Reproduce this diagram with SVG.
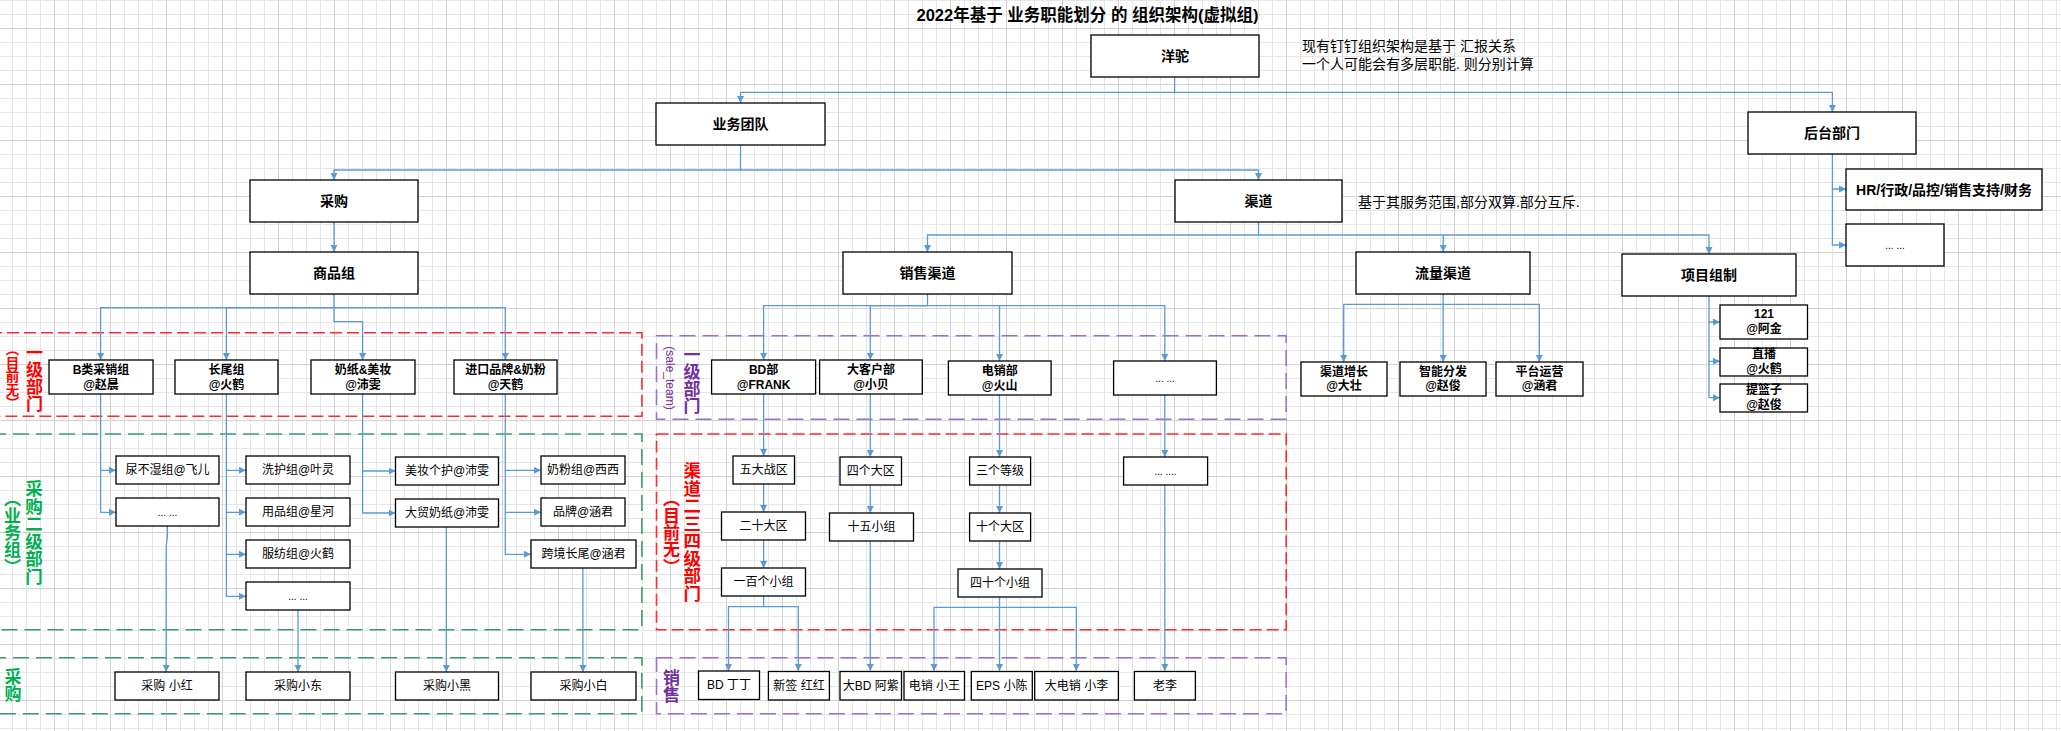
<svg xmlns="http://www.w3.org/2000/svg" width="2061" height="731" viewBox="0 0 2061 731">
  <defs>
    <pattern id="grid" width="56" height="56" patternUnits="userSpaceOnUse" x="-2" y="28">
      <rect x="14" y="0" width="1" height="56" fill="#e6e6e6"/>
      <rect x="28" y="0" width="1" height="56" fill="#e6e6e6"/>
      <rect x="42" y="0" width="1" height="56" fill="#e6e6e6"/>
      <rect x="0" y="14" width="56" height="1" fill="#e6e6e6"/>
      <rect x="0" y="28" width="56" height="1" fill="#e6e6e6"/>
      <rect x="0" y="42" width="56" height="1" fill="#e6e6e6"/>
      <rect x="0" y="0" width="1" height="56" fill="#d2d2d2"/>
      <rect x="0" y="0" width="56" height="1" fill="#d2d2d2"/>
    </pattern>
    <marker id="arr" markerWidth="8" markerHeight="8" refX="7" refY="4" orient="auto" markerUnits="userSpaceOnUse">
      <path d="M0,0.5 L7,4 L0,7.5 z" fill="#5b9bd5"/>
    </marker>
    <style>
      text { font-family: "Liberation Sans", "Noto Sans CJK SC", sans-serif; fill: #000; dominant-baseline: central; text-anchor: middle; }
      .box { fill: #fff; stroke: #000; stroke-width: 1.3; }
      .t14 { font-size: 14px; font-weight: bold; }
      .t12b { font-size: 12px; font-weight: bold; }
      .t12 { font-size: 12px; }
      .dots { font-size: 10px; }
      .note { font-size: 14px; text-anchor: start; }
      .title { font-size: 16.5px; font-weight: bold; }
      .conn path { fill: none; stroke: #5b9bd5; stroke-width: 1.3; }
      .zone { fill: none; stroke-width: 1.6; }
      .zr { stroke: #ff2a2a; stroke-dasharray: 12 5; }
      .zg { stroke: #3a9e6c; stroke-dasharray: 16 7; }
      .zp { stroke: #9b70d0; stroke-dasharray: 16 7; }
      .vl { writing-mode: vertical-rl; font-weight: bold; }
      .red { fill: #ff0000; }
      .green { fill: #00b050; }
      .purple { fill: #7030a0; }
    </style>
  </defs>

  <!-- background grid -->
  <rect x="0" y="0" width="2061" height="731" fill="#fff"/>
  <rect x="0" y="0" width="2061" height="731" fill="url(#grid)"/>

  <!-- dashed zones -->
  <g id="zones">
    <rect class="zone zr" x="-10" y="332.7" width="651.9" height="83.6"/>
    <rect class="zone zg" x="-10" y="434" width="651.9" height="195.7"/>
    <rect class="zone zg" x="-10" y="657.7" width="651.9" height="56"/>
    <rect class="zone zp" x="656.5" y="335.7" width="629.7" height="83.6"/>
    <rect class="zone zr" x="656.5" y="434" width="629.7" height="195.7"/>
    <rect class="zone zp" x="656.5" y="657.7" width="629.7" height="56"/>
  </g>

  <!-- zone labels -->
  <g id="zone-labels">
    <text class="vl red" x="32.5" y="378" style="font-size:17px">一级部门</text>
    <text class="vl red" x="11" y="376" style="font-size:13.5px">（目前无）</text>
    <text class="vl green" x="32.5" y="532.5" style="font-size:17.5px">采购二级部门</text>
    <text class="vl green" x="10.5" y="532.5" style="font-size:17px">（业务组）</text>
    <text class="vl green" x="11" y="685" style="font-size:17px">采购</text>
    <text class="vl purple" x="690" y="380" style="font-size:17px">一级部门</text>
    <text class="purple" x="669.5" y="378" style="font-size:12px" transform="rotate(90 669.5 378)">(sale_team)</text>
    <text class="vl red" x="690.7" y="532" style="font-size:17.5px">渠道二三四级部门</text>
    <text class="vl red" x="669.5" y="532.5" style="font-size:17px">（目前无）</text>
    <text class="vl purple" x="669.5" y="686" style="font-size:17px">销售</text>
  </g>

  <!-- title and notes -->
  <text class="title" x="1087.5" y="15">2022年基于 业务职能划分 的 组织架构(虚拟组)</text>
  <text class="note" x="1302" y="46">现有钉钉组织架构是基于 汇报关系</text>
  <text class="note" x="1302" y="64">一个人可能会有多层职能. 则分别计算</text>
  <text class="note" x="1358" y="202">基于其服务范围,部分双算.部分互斥.</text>

  <!-- connectors -->
  <g id="connectors" class="conn">
    <path d="M1174.6,77 V92.3 H740.5 V103" marker-end="url(#arr)"/>
    <path d="M1174.6,92.3 H1832.4 V112" marker-end="url(#arr)"/>
    <path d="M740.5,145 V170 H334 V180" marker-end="url(#arr)"/>
    <path d="M740.5,170 H1258.5 V180" marker-end="url(#arr)"/>
    <path d="M334,222 V252" marker-end="url(#arr)"/>
    <path d="M334,294 V307.7 H100.6 V360" marker-end="url(#arr)"/>
    <path d="M334,307.7 H226.4 V360" marker-end="url(#arr)"/>
    <path d="M334,307.7 V321.7 H362.6 V360" marker-end="url(#arr)"/>
    <path d="M334,307.7 H505.3 V360" marker-end="url(#arr)"/>
    <path d="M1258.5,222 V235 H927.5 V252" marker-end="url(#arr)"/>
    <path d="M1258.5,235 H1443.2 V252" marker-end="url(#arr)"/>
    <path d="M1443.2,235 H1709 V254" marker-end="url(#arr)"/>
    <path d="M1832.4,154 V189 H1846" marker-end="url(#arr)"/>
    <path d="M1832.4,189 V245 H1846" marker-end="url(#arr)"/>
    <path d="M927.5,294 V305.7 H763.6 V360" marker-end="url(#arr)"/>
    <path d="M927.5,305.7 H870.3 V360" marker-end="url(#arr)"/>
    <path d="M927.5,305.7 H999.5 V361" marker-end="url(#arr)"/>
    <path d="M999.5,305.7 H1164.8 V361" marker-end="url(#arr)"/>
    <path d="M1443.2,294 V304.3 H1343.7 V362" marker-end="url(#arr)"/>
    <path d="M1443.2,304.3 V362" marker-end="url(#arr)"/>
    <path d="M1443.2,304.3 H1539.3 V362" marker-end="url(#arr)"/>
    <path d="M1709,296 V322 H1720" marker-end="url(#arr)"/>
    <path d="M1709,322 V361.3 H1720" marker-end="url(#arr)"/>
    <path d="M1709,361.3 V397.7 H1720" marker-end="url(#arr)"/>
    <path d="M100.6,394 V470.3 H116" marker-end="url(#arr)"/>
    <path d="M100.6,470.3 V512.3 H116" marker-end="url(#arr)"/>
    <path d="M226.4,394 V470.3 H246" marker-end="url(#arr)"/>
    <path d="M226.4,470.3 V512.3 H246" marker-end="url(#arr)"/>
    <path d="M226.4,512.3 V554.3 H246" marker-end="url(#arr)"/>
    <path d="M226.4,554.3 V596.3 H246" marker-end="url(#arr)"/>
    <path d="M362.6,394 V471 H395.5" marker-end="url(#arr)"/>
    <path d="M362.6,471 V513 H395.5" marker-end="url(#arr)"/>
    <path d="M505.3,394 V470.3 H541" marker-end="url(#arr)"/>
    <path d="M505.3,470.3 V512.3 H541" marker-end="url(#arr)"/>
    <path d="M505.3,512.3 V554.3 H531" marker-end="url(#arr)"/>
    <path d="M167.4,526 V537 L166.2,546 V672" marker-end="url(#arr)"/>
    <path d="M298,610 V672" marker-end="url(#arr)"/>
    <path d="M446.3,527 V672" marker-end="url(#arr)"/>
    <path d="M582.9,568 V672" marker-end="url(#arr)"/>
    <path d="M763.6,394 V456" marker-end="url(#arr)"/>
    <path d="M763.6,484 V512" marker-end="url(#arr)"/>
    <path d="M763.6,540 V568" marker-end="url(#arr)"/>
    <path d="M763.6,596 V606.7 H728.5 V671" marker-end="url(#arr)"/>
    <path d="M763.6,606.7 H798.3 V671" marker-end="url(#arr)"/>
    <path d="M870.3,394 V457" marker-end="url(#arr)"/>
    <path d="M870.3,485 V513" marker-end="url(#arr)"/>
    <path d="M870.3,541 V671" marker-end="url(#arr)"/>
    <path d="M999.5,395 V457" marker-end="url(#arr)"/>
    <path d="M999.5,485 V513" marker-end="url(#arr)"/>
    <path d="M999.5,541 V569" marker-end="url(#arr)"/>
    <path d="M999.5,597 V607.3 H934 V671" marker-end="url(#arr)"/>
    <path d="M999.5,607.3 V671" marker-end="url(#arr)"/>
    <path d="M999.5,607.3 H1076.3 V671" marker-end="url(#arr)"/>
    <path d="M1164.8,395 V457" marker-end="url(#arr)"/>
    <path d="M1164.8,485 V671" marker-end="url(#arr)"/>
  </g>

  <!-- top levels -->
  <g id="n-yangtuo"><rect class="box" x="1091" y="35" width="168" height="42"/><text class="t14" x="1175" y="56">洋驼</text></g>
  <g id="n-yewu"><rect class="box" x="656" y="103" width="169" height="42"/><text class="t14" x="740.5" y="124">业务团队</text></g>
  <g id="n-houtai"><rect class="box" x="1748" y="112" width="168" height="42"/><text class="t14" x="1832" y="133">后台部门</text></g>
  <g id="n-hr"><rect class="box" x="1846" y="169" width="196" height="41"/><text class="t14" x="1944" y="189.5">HR/行政/品控/销售支持/财务</text></g>
  <g id="n-houtai-more"><rect class="box" x="1846" y="224" width="98" height="42"/><text class="dots" x="1895" y="245">... ...</text></g>
  <g id="n-caigou"><rect class="box" x="250" y="180" width="168" height="42"/><text class="t14" x="334" y="201">采购</text></g>
  <g id="n-qudao"><rect class="box" x="1175" y="180" width="167" height="42"/><text class="t14" x="1258.5" y="201">渠道</text></g>
  <g id="n-shangpin"><rect class="box" x="250" y="252" width="168" height="42"/><text class="t14" x="334" y="273">商品组</text></g>
  <g id="n-xiaoshou"><rect class="box" x="843" y="252" width="169" height="42"/><text class="t14" x="927.5" y="273">销售渠道</text></g>
  <g id="n-liuliang"><rect class="box" x="1356" y="252" width="174" height="42"/><text class="t14" x="1443" y="273">流量渠道</text></g>
  <g id="n-xiangmu"><rect class="box" x="1622" y="254" width="174" height="42"/><text class="t14" x="1709" y="275">项目组制</text></g>

  <!-- channel / project children -->
  <g id="n-zengzhang"><rect class="box" x="1301" y="362" width="86" height="34"/><text class="t12b" x="1344" y="372">渠道增长</text><text class="t12b" x="1344" y="386">@大壮</text></g>
  <g id="n-fenfa"><rect class="box" x="1400" y="362" width="86" height="34"/><text class="t12b" x="1443" y="372">智能分发</text><text class="t12b" x="1443" y="386">@赵俊</text></g>
  <g id="n-yunying"><rect class="box" x="1496" y="362" width="87" height="34"/><text class="t12b" x="1539.5" y="372">平台运营</text><text class="t12b" x="1539.5" y="386">@涵君</text></g>
  <g id="n-121"><rect class="box" x="1720" y="305" width="87.5" height="34"/><text class="t12b" x="1764" y="314">121</text><text class="t12b" x="1764" y="329">@阿金</text></g>
  <g id="n-zhibo"><rect class="box" x="1720" y="348" width="87.5" height="28"/><text class="t12b" x="1764" y="354">直播</text><text class="t12b" x="1764" y="368.5">@火鹤</text></g>
  <g id="n-tilanzi"><rect class="box" x="1720" y="384" width="87.5" height="28"/><text class="t12b" x="1764" y="390">提篮子</text><text class="t12b" x="1764" y="404.5">@赵俊</text></g>

  <!-- purchasing level 1 -->
  <g id="n-bclass"><rect class="box" x="49" y="360" width="104" height="34"/><text class="t12b" x="101" y="370">B类采销组</text><text class="t12b" x="101" y="384.5">@赵晨</text></g>
  <g id="n-changwei"><rect class="box" x="175" y="360" width="103" height="34"/><text class="t12b" x="226.5" y="370">长尾组</text><text class="t12b" x="226.5" y="384.5">@火鹤</text></g>
  <g id="n-naizhi"><rect class="box" x="311" y="360" width="104" height="34"/><text class="t12b" x="363" y="370">奶纸&amp;美妆</text><text class="t12b" x="363" y="384.5">@沛雯</text></g>
  <g id="n-jinkou"><rect class="box" x="454" y="360" width="103" height="34"/><text class="t12b" x="505.5" y="370">进口品牌&amp;奶粉</text><text class="t12b" x="505.5" y="384.5">@天鹤</text></g>

  <!-- purchasing level 2 -->
  <g id="n-niaobushi"><rect class="box" x="116" y="456" width="103" height="28"/><text class="t12" x="167.5" y="470">尿不湿组@飞儿</text></g>
  <g id="n-more-b"><rect class="box" x="116" y="498" width="103" height="28"/><text class="dots" x="167.5" y="512">... ...</text></g>
  <g id="n-xihu"><rect class="box" x="246" y="456" width="104" height="28"/><text class="t12" x="298" y="470">洗护组@叶灵</text></g>
  <g id="n-yongpin"><rect class="box" x="246" y="498" width="104" height="28"/><text class="t12" x="298" y="512">用品组@星河</text></g>
  <g id="n-fufang"><rect class="box" x="246" y="540" width="104" height="28"/><text class="t12" x="298" y="554">服纺组@火鹤</text></g>
  <g id="n-more-cw"><rect class="box" x="246" y="582" width="104" height="28"/><text class="dots" x="298" y="596">... ...</text></g>
  <g id="n-meizhuang"><rect class="box" x="395.5" y="457" width="103" height="28"/><text class="t12" x="447" y="471">美妆个护@沛雯</text></g>
  <g id="n-damao"><rect class="box" x="395.5" y="499" width="103" height="28"/><text class="t12" x="447" y="513">大贸奶纸@沛雯</text></g>
  <g id="n-naifen"><rect class="box" x="541" y="456" width="84" height="28"/><text class="t12" x="583" y="470">奶粉组@西西</text></g>
  <g id="n-pinpai"><rect class="box" x="541" y="498" width="84" height="28"/><text class="t12" x="583" y="512">品牌@涵君</text></g>
  <g id="n-kuajing"><rect class="box" x="531" y="540" width="105" height="28"/><text class="t12" x="583.5" y="554">跨境长尾@涵君</text></g>

  <!-- purchasers -->
  <g id="n-xiaohong"><rect class="box" x="115" y="672" width="104" height="28"/><text class="t12" x="167" y="686">采购 小红</text></g>
  <g id="n-xiaodong"><rect class="box" x="246" y="672" width="104" height="28"/><text class="t12" x="298" y="686">采购小东</text></g>
  <g id="n-xiaohei"><rect class="box" x="395.5" y="672" width="103" height="28"/><text class="t12" x="447" y="686">采购小黑</text></g>
  <g id="n-xiaobai"><rect class="box" x="531" y="672" width="105" height="28"/><text class="t12" x="583.5" y="686">采购小白</text></g>

  <!-- sales level 1 -->
  <g id="n-bd"><rect class="box" x="711.6" y="360" width="104" height="34"/><text class="t12b" x="763.6" y="370">BD部</text><text class="t12b" x="763.6" y="384.5">@FRANK</text></g>
  <g id="n-dakehu"><rect class="box" x="819.6" y="360" width="102.7" height="34"/><text class="t12b" x="871" y="370">大客户部</text><text class="t12b" x="871" y="384.5">@小贝</text></g>
  <g id="n-dianxiao"><rect class="box" x="948.4" y="361" width="102.7" height="34"/><text class="t12b" x="999.7" y="371">电销部</text><text class="t12b" x="999.7" y="385.5">@火山</text></g>
  <g id="n-more-s"><rect class="box" x="1113.6" y="361" width="102.8" height="34"/><text class="dots" x="1165" y="378">... ...</text></g>

  <!-- sales levels 2-4 -->
  <g id="n-wuda"><rect class="box" x="733" y="456" width="61.5" height="28"/><text class="t12" x="763.7" y="470">五大战区</text></g>
  <g id="n-ershi"><rect class="box" x="721.5" y="512" width="84" height="28"/><text class="t12" x="763.5" y="526">二十大区</text></g>
  <g id="n-yibai"><rect class="box" x="721.5" y="568" width="84" height="28"/><text class="t12" x="763.5" y="582">一百个小组</text></g>
  <g id="n-sige"><rect class="box" x="840" y="457" width="61.5" height="28"/><text class="t12" x="870.7" y="471">四个大区</text></g>
  <g id="n-shiwu"><rect class="box" x="829.5" y="513" width="84" height="28"/><text class="t12" x="871.5" y="527">十五小组</text></g>
  <g id="n-sange"><rect class="box" x="969.6" y="457" width="61" height="28"/><text class="t12" x="1000" y="471">三个等级</text></g>
  <g id="n-shige"><rect class="box" x="969.6" y="513" width="61" height="28"/><text class="t12" x="1000" y="527">十个大区</text></g>
  <g id="n-sishi"><rect class="box" x="958" y="569" width="84" height="28"/><text class="t12" x="1000" y="583">四十个小组</text></g>
  <g id="n-more-s2"><rect class="box" x="1123.6" y="457" width="84" height="28"/><text class="dots" x="1165.5" y="471">... ....</text></g>

  <!-- sales people -->
  <g id="n-dingding"><rect class="box" x="698.5" y="671" width="61" height="28.5"/><text class="t12" x="729" y="685.3">BD 丁丁</text></g>
  <g id="n-honghong"><rect class="box" x="768.4" y="671.5" width="61" height="28.5"/><text class="t12" x="799" y="685.8">新签 红红</text></g>
  <g id="n-azi"><rect class="box" x="840" y="671.5" width="61.5" height="28.5"/><text class="t12" x="870.7" y="685.8">大BD 阿紫</text></g>
  <g id="n-xiaowang"><rect class="box" x="904" y="671.5" width="60.5" height="28.5"/><text class="t12" x="934.3" y="685.8">电销 小王</text></g>
  <g id="n-xiaochen"><rect class="box" x="971.3" y="671.5" width="61" height="28.5"/><text class="t12" x="1001.8" y="685.8">EPS 小陈</text></g>
  <g id="n-xiaoli"><rect class="box" x="1034.7" y="671.5" width="83.7" height="28.5"/><text class="t12" x="1076.5" y="685.8">大电销 小李</text></g>
  <g id="n-laoli"><rect class="box" x="1134.4" y="671.5" width="61" height="28.5"/><text class="t12" x="1165" y="685.8">老李</text></g>
</svg>
